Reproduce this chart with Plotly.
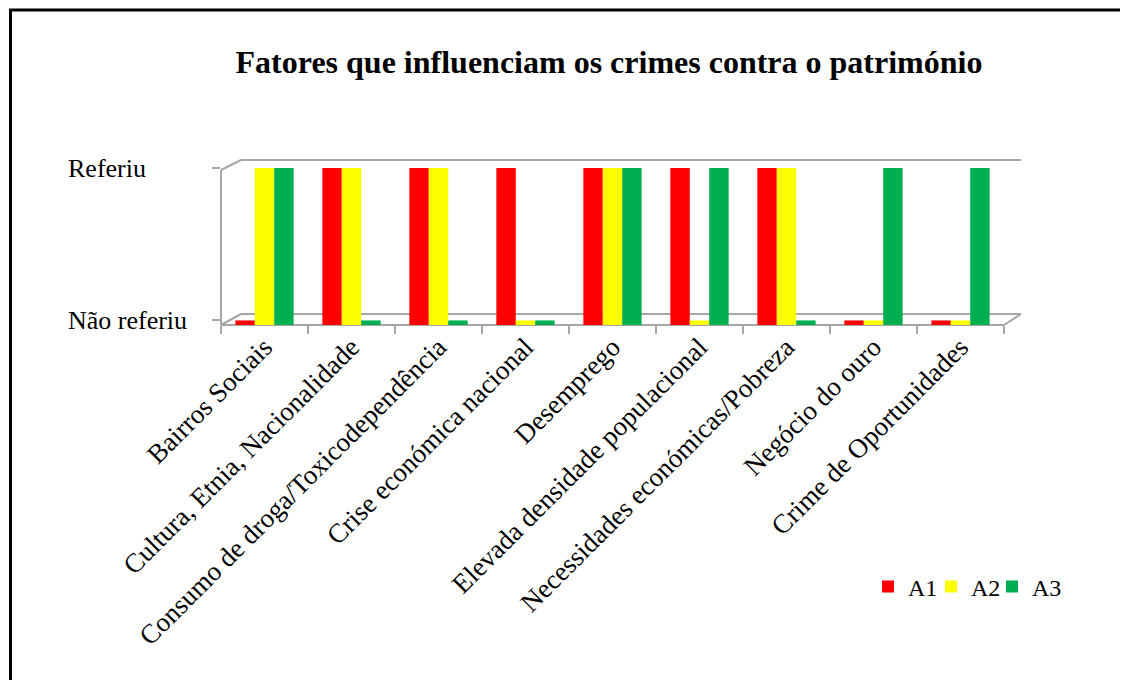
import plotly.graph_objects as go

# categories and answers (1 = Referiu, 0 = Não referiu)
categorias = [
    "Bairros Sociais",
    "Cultura, Etnia, Nacionalidade",
    "Consumo de droga/Toxicodependência",
    "Crise económica nacional",
    "Desemprego",
    "Elevada densidade populacional",
    "Necessidades económicas/Pobreza",
    "Negócio do ouro",
    "Crime de Oportunidades",
]
a1 = [0, 1, 1, 1, 1, 1, 1, 0, 0]
a2 = [1, 1, 1, 0, 1, 0, 1, 0, 0]
a3 = [1, 0, 0, 0, 1, 1, 0, 1, 1]

series_names = ["A1", "A2", "A3"]
series_colors = ["#FF0000", "#FFFF00", "#00B050"]

y_tick_vals = [0, 1]
y_tick_text = ["Não referiu", "Referiu"]

FONT = "Liberation Serif, Times New Roman, serif"
GRID = "#A6A6A6"
SLAB = 0.03  # thin floor slab so "Não referiu" bars stay visible

OFF = 8  # page margin of the browser
W, H = 1128, 680
# plot area in reference (page) pixels
L, R, T, B = 221, 1024, 151, 325


def px(x):
    return (x - L) / (R - L)


def py(y):
    return (B - y) / (B - T)


legend_ids = ["legend", "legend2", "legend3"]
legend_x = [868, 931, 992]

fig = go.Figure()
for name, vals, col, lid in zip(series_names, [a1, a2, a3], series_colors, legend_ids):
    fig.add_trace(go.Bar(
        name=name,
        x=categorias,
        y=[v + SLAB for v in vals],
        base=-SLAB,
        marker=dict(color=col, line=dict(width=0)),
        customdata=vals,
        legend=lid,
        showlegend=True,
        hovertemplate="%{x}<br>" + name + ": %{customdata}<extra></extra>",
    ))

# 3D-like wall / floor outline
wall = [
    ((221, 325), (1004, 325)),
    ((221, 325), (221, 170)),
    ((221, 170), (241, 160)),
    ((241, 160), (1021, 160)),
    ((221, 325), (241, 314)),
    ((241, 314), (1021, 314)),
    ((1004, 325), (1021, 314)),
]
shapes = []
for (x0, y0), (x1, y1) in wall:
    shapes.append(dict(type="line", xref="paper", yref="paper",
                       x0=px(x0), y0=py(y0), x1=px(x1), y1=py(y1),
                       line=dict(color=GRID, width=2), layer="below"))
# outer frame
shapes.append(dict(type="rect", xref="paper", yref="paper",
                   x0=px(10.5), y0=py(700), x1=px(1150), y1=py(10),
                   line=dict(color="black", width=3)))

annotations = []
for v, t in zip(y_tick_vals, y_tick_text):
    annotations.append(dict(text=t, xref="paper", yref="y", x=px(66), y=v,
                            xanchor="left", yanchor="middle", showarrow=False,
                            font=dict(family=FONT, size=26, color="black")))

legends = {}
for lid, lx in zip(legend_ids, legend_x):
    legends[lid] = dict(orientation="h", x=px(lx), xanchor="left", y=py(587),
                        yanchor="middle",
                        font=dict(family=FONT, size=24, color="black"),
                        bgcolor="rgba(0,0,0,0)", itemclick=False)

fig.update_layout(
    width=W, height=H,
    margin=dict(l=L - OFF, r=W - R + OFF, t=T - OFF, b=H - B + OFF, pad=0),
    paper_bgcolor="white", plot_bgcolor="white",
    showlegend=True,
    title=dict(text="<b>Fatores que influenciam os crimes contra o património</b>",
               x=(609 - OFF) / W, xanchor="center", y=1 - (62 - OFF) / H,
               yanchor="middle",
               font=dict(family=FONT, size=32, color="black")),
    font=dict(family=FONT, color="black"),
    barmode="group", bargap=0.33, bargroupgap=0,
    xaxis=dict(type="category", range=[-0.5, 8.73], tickangle=-45,
               tickson="boundaries", ticks="outside", ticklen=8, tickwidth=2,
               tickcolor=GRID, showline=False, showgrid=False,
               tickfont=dict(family=FONT, size=27, color="black")),
    yaxis=dict(range=[-SLAB, 1 + (168 - T) / (B - 168) * (1 + SLAB)],
               tickvals=y_tick_vals, showticklabels=False, ticks="outside",
               ticklen=8, tickwidth=2, tickcolor=GRID, showgrid=False,
               zeroline=False, showline=False),
    shapes=shapes,
    annotations=annotations,
    **legends,
)

fig.write_html("out.html")
